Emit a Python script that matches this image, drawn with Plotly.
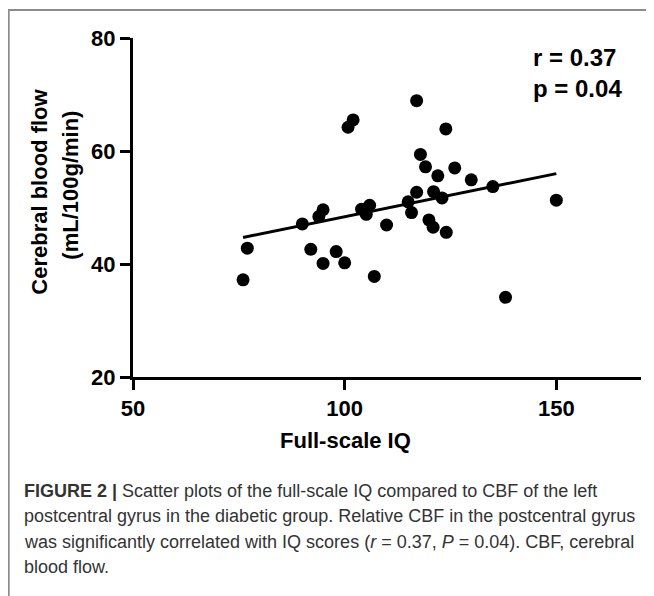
import plotly.graph_objects as go

# ---- data ----
iq = [76, 77, 90, 92, 93.9, 94.9, 94.9, 98, 100, 100.8, 102, 104, 105.9, 105.1,
      107, 109.9, 115, 115.8, 117, 117, 117.9, 119.1, 119.9, 120.9, 121, 122,
      123, 123.9, 124, 126, 129.9, 135, 138, 150]
cbf = [37.2, 42.8, 47.1, 42.6, 48.4, 49.6, 40.1, 42.2, 40.2, 64.2, 65.5, 49.7,
       50.4, 48.8, 37.8, 46.9, 51.0, 49.1, 68.9, 52.7, 59.4, 57.2, 47.8, 46.5,
       52.8, 55.6, 51.7, 63.9, 45.6, 57.0, 54.9, 53.7, 34.1, 51.3]
fit_x = [76, 150]
fit_y = [44.7, 56.0]

x_ticks = [50, 100, 150]
y_ticks = [20, 40, 60, 80]
x_range = [50, 170]
y_range = [20, 80]

stats_lines = ["r = 0.37", "p = 0.04"]
y_title_lines = ["Cerebral blood flow", "(mL/100g/min)"]
x_title = "Full-scale IQ"
caption_lines = [
    "<b>FIGURE 2 |</b> Scatter plots of the full-scale IQ compared to CBF of the left",
    "postcentral gyrus in the diabetic group. Relative CBF in the postcentral gyrus",
    "was significantly correlated with IQ scores (<i>r</i> = 0.37, <i>P</i> = 0.04). CBF, cerebral",
    "blood flow.",
]

# ---- layout geometry ----
# the page body has an 8px margin, so the figure starts at page (8, 8)
OFF = 8
W, H = 654 - OFF, 596 - OFF
# plot area edges in page pixels
PL, PR, PT, PB = 133.3, 641.3, 38, 377
L, R, T, B = PL - OFF, PR - OFF, PT - OFF, PB - OFF


def px_x(px):
    """page x pixel -> paper coordinate"""
    return (px - OFF - L) / (R - L)


def px_y(py):
    """page y pixel -> paper coordinate"""
    return (B - (py - OFF)) / (B - T)


FONT = "Liberation Sans, Arial, sans-serif"

fig = go.Figure()
fig.add_trace(go.Scatter(x=fit_x, y=fit_y, mode="lines",
                         line=dict(color="black", width=3), hoverinfo="skip"))
fig.add_trace(go.Scatter(x=iq, y=cbf, mode="markers",
                         marker=dict(color="black", size=13, line=dict(width=0))))

axis_common = dict(showline=True, linewidth=3, linecolor="black", ticks="outside",
                   ticklen=10, tickwidth=3, tickcolor="black", showgrid=False,
                   zeroline=False,
                   tickfont=dict(family=FONT, size=22, color="black", weight="bold"))

fig.update_xaxes(range=x_range, tickvals=x_ticks, **axis_common)
fig.update_yaxes(range=y_range, tickvals=y_ticks, **axis_common)

annotations = []
bold = dict(family=FONT, size=22, color="black")
annotations.append(dict(text="<b>%s</b>" % y_title_lines[0], x=px_x(39), y=px_y(192),
                        textangle=-90, font=bold))
annotations.append(dict(text="<b>%s</b>" % y_title_lines[1], x=px_x(70), y=px_y(185),
                        textangle=-90, font=bold))
annotations.append(dict(text="<b>%s</b>" % x_title, x=px_x(346), y=px_y(440), font=bold))
for i, s in enumerate(stats_lines):
    annotations.append(dict(text="<b>%s</b>" % s, x=px_x(531), y=px_y(57 + 31 * i),
                            xanchor="left", font=dict(family=FONT, size=24, color="black")))
for i, s in enumerate(caption_lines):
    annotations.append(dict(text=s, x=px_x(22), y=px_y(491 + 25.3 * i), xanchor="left",
                            font=dict(family=FONT, size=18, color="#333333")))
for a in annotations:
    a.update(xref="paper", yref="paper", showarrow=False)
    a.setdefault("xanchor", "center")
    a.setdefault("yanchor", "middle")

fig.update_layout(
    width=W, height=H, showlegend=False,
    margin=dict(l=L, r=W - R, t=T, b=H - B, pad=0),
    paper_bgcolor="white", plot_bgcolor="white",
    annotations=annotations,
    shapes=[dict(type="rect", xref="paper", yref="paper",
                 x0=px_x(9), x1=px_x(720), y0=px_y(10), y1=px_y(700),
                 line=dict(color="#8c8c8c", width=2), layer="below")],
)

fig.write_html("out.html")
